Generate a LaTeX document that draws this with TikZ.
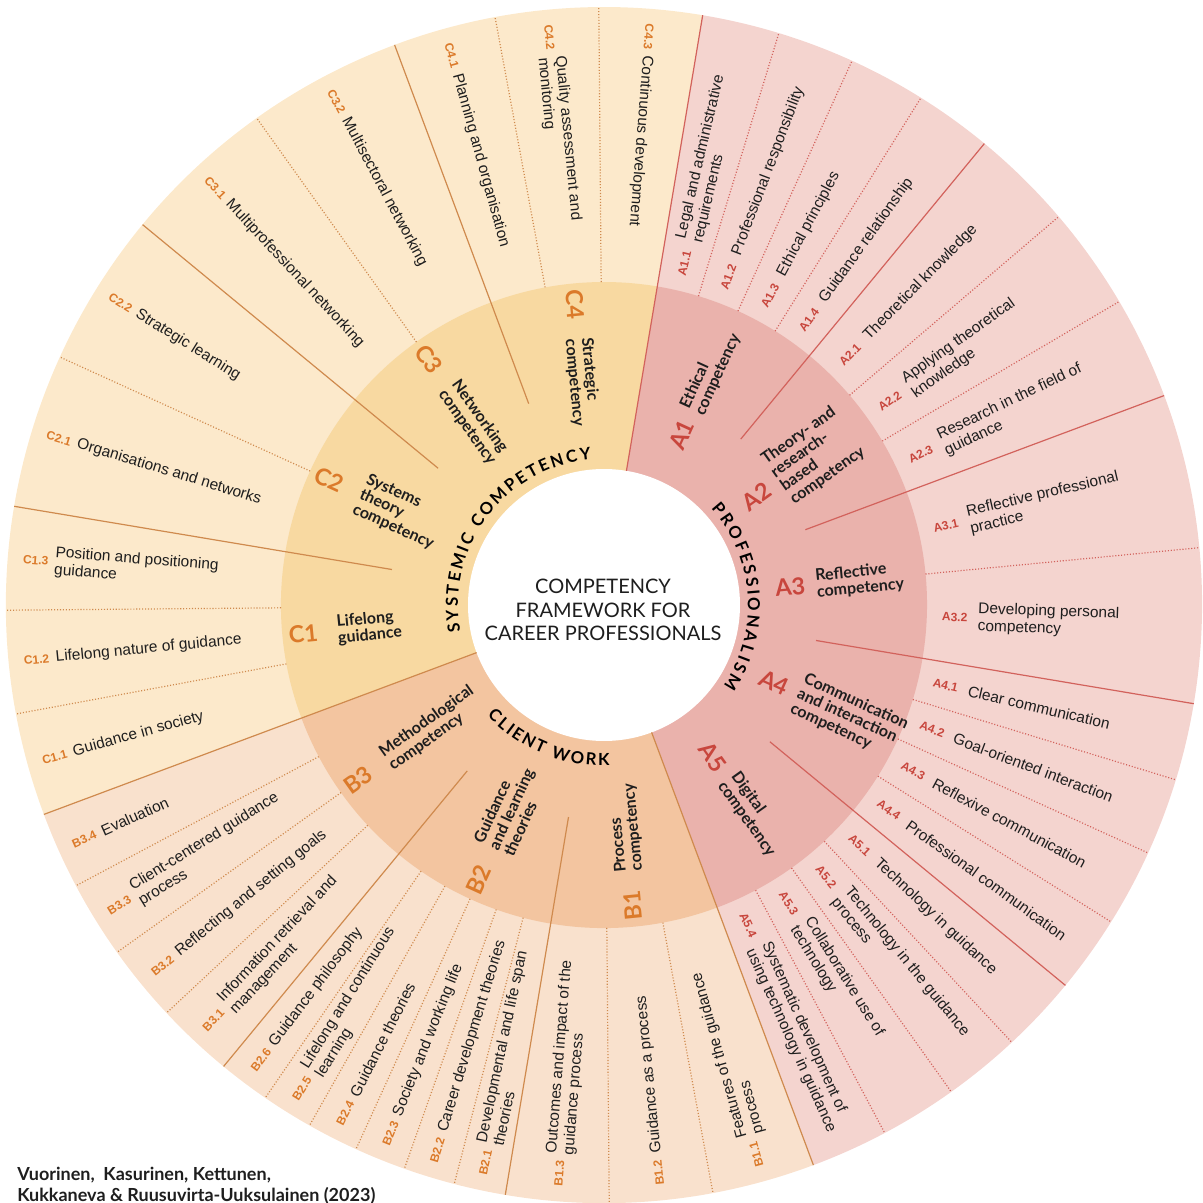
\documentclass[tikz,border=0pt]{standalone}
\usepackage{fontspec}
\setmainfont{Liberation Sans}
\newfontfamily\lato{Lato}
\usetikzlibrary{decorations.text}

\definecolor{cOut}{HTML}{FCE9CB}
\definecolor{cMid}{HTML}{F8D9A1}
\definecolor{aOut}{HTML}{F4D4CF}
\definecolor{aMid}{HTML}{EAB2AC}
\definecolor{bOut}{HTML}{F9E1CD}
\definecolor{bMid}{HTML}{F3C5A0}
\definecolor{orangeCode}{HTML}{DB7A2A}
\definecolor{redCode}{HTML}{C8463D}
\definecolor{orangeLine}{HTML}{CF8A4E}
\definecolor{redLine}{HTML}{D2625C}
\definecolor{ink}{HTML}{1E1E1E}

\begin{document}
\begin{tikzpicture}[x=0.75pt,y=0.75pt,
  subcodeA/.style={anchor=west,inner sep=0pt,text=redCode,font=\bfseries\fontsize{9}{10}\selectfont},
  subcodeBC/.style={subcodeA,text=orangeCode},
  subtext/.style={anchor=west,inner sep=0pt,align=left,text=ink,font=\fontsize{11.6}{13.1}\selectfont},
  compcodeA/.style={inner sep=0pt,text=redCode,font=\lato\bfseries\fontsize{17.6}{20}\selectfont},
  compcodeBC/.style={compcodeA,text=orangeCode},
  compname/.style={anchor=west,inner sep=0pt,align=left,text=ink,font=\lato\bfseries\fontsize{12}{12.3}\selectfont},
  dotsA/.style={redLine,line width=0.9pt,dash pattern=on 0.8pt off 1.4pt},
  dotsBC/.style={dotsA,orangeLine},
  ruleA/.style={redLine,line width=0.9pt},
  ruleBC/.style={ruleA,orangeLine}]
\useasboundingbox (-604,-598) rectangle (599,605);

% outer ring
\fill[aOut] (0,0) -- (80.5:598) arc[start angle=80.5,end angle=-69.5,radius=448.5pt] -- cycle;
\fill[bOut] (0,0) -- (-69.5:598) arc[start angle=-69.5,end angle=-159.5,radius=448.5pt] -- cycle;
\fill[cOut] (0,0) -- (200.5:598) arc[start angle=200.5,end angle=80.5,radius=448.5pt] -- cycle;
% competency ring
\fill[aMid] (0,0) -- (80.5:323) arc[start angle=80.5,end angle=-69.5,radius=242.25pt] -- cycle;
\fill[bMid] (0,0) -- (-69.5:323) arc[start angle=-69.5,end angle=-159.5,radius=242.25pt] -- cycle;
\fill[cMid] (0,0) -- (200.5:323) arc[start angle=200.5,end angle=80.5,radius=242.25pt] -- cycle;
\fill[white] (0,0) circle[radius=102pt];

% main borders
\draw[ruleA] (80.5:136) -- (80.5:598);
\draw[ruleBC] (-69.5:136) -- (-69.5:598);
\draw[ruleBC] (200.5:136) -- (200.5:598);
\draw[ruleA] (50.5:215) -- (50.5:598);
\draw[ruleA] (20.5:215) -- (20.5:598);
\draw[ruleA] (-9.5:215) -- (-9.5:598);
\draw[ruleA] (-39.5:215) -- (-39.5:598);
\draw[ruleBC] (-99.5:215) -- (-99.5:598);
\draw[ruleBC] (-129.5:215) -- (-129.5:598);
\draw[ruleBC] (170.5:215) -- (170.5:598);
\draw[ruleBC] (140.5:215) -- (140.5:598);
\draw[ruleBC] (110.5:215) -- (110.5:598);

% dotted borders
\draw[dotsA] (73:323) -- (73:598);
\draw[dotsA] (65.5:323) -- (65.5:598);
\draw[dotsA] (58:323) -- (58:598);
\draw[dotsA] (40.5:323) -- (40.5:598);
\draw[dotsA] (30.5:323) -- (30.5:598);
\draw[dotsA] (5.5:323) -- (5.5:598);
\draw[dotsA] (-17:323) -- (-17:598);
\draw[dotsA] (-24.5:323) -- (-24.5:598);
\draw[dotsA] (-32:323) -- (-32:598);
\draw[dotsA] (-47:323) -- (-47:598);
\draw[dotsA] (-54.5:323) -- (-54.5:598);
\draw[dotsA] (-62:323) -- (-62:598);
\draw[dotsBC] (-79.5:323) -- (-79.5:598);
\draw[dotsBC] (-89.5:323) -- (-89.5:598);
\draw[dotsBC] (-104.5:323) -- (-104.5:598);
\draw[dotsBC] (-109.5:323) -- (-109.5:598);
\draw[dotsBC] (-114.5:323) -- (-114.5:598);
\draw[dotsBC] (-119.5:323) -- (-119.5:598);
\draw[dotsBC] (-124.5:323) -- (-124.5:598);
\draw[dotsBC] (-137:323) -- (-137:598);
\draw[dotsBC] (-144.5:323) -- (-144.5:598);
\draw[dotsBC] (-152:323) -- (-152:598);
\draw[dotsBC] (190.5:323) -- (190.5:598);
\draw[dotsBC] (180.5:323) -- (180.5:598);
\draw[dotsBC] (155.5:323) -- (155.5:598);
\draw[dotsBC] (125.5:323) -- (125.5:598);
\draw[dotsBC] (100.5:323) -- (100.5:598);
\draw[dotsBC] (90.5:323) -- (90.5:598);

% centre
\node[font=\lato\fontsize{15}{17.5}\selectfont,align=center,text=ink] (title) at (-1,-5) {COMPETENCY\\FRAMEWORK FOR\\CAREER PROFESSIONALS};
\path[decorate,decoration={text along path,text align={fit to path},
  text={|\lato\bfseries\fontsize{12.5}{14}\selectfont|SYSTEMIC COMPETENCY}}]
  (190.5:146) arc[start angle=190.5,end angle=95,radius=109.5pt];
\path[decorate,decoration={text along path,text align={fit to path},
  text={|\lato\bfseries\fontsize{12.5}{14}\selectfont|PROFESSIONALISM}}]
  (42:144) arc[start angle=42,end angle=-34,radius=108pt];
\path[decorate,decoration={text along path,text align={fit to path},
  text={|\lato\bfseries\fontsize{12.5}{14}\selectfont|CLIENT WORK}}]
  (-136.5:161) arc[start angle=-136.5,end angle=-88,radius=120.75pt];

% competencies
\node[compcodeA,rotate=65.5] (A1code) at (65.5:187) {A1};
\node[compname,rotate=65.5] (A1) at (65.5:213) {Ethical\\competency};
\node[compcodeA,rotate=35.5] (A2code) at (35.5:187) {A2};
\node[compname,rotate=35.5] (A2) at (35.5:213) {Theory- and\\research-\\based\\competency};
\node[compcodeA,rotate=5.5] (A3code) at (5.5:187) {A3};
\node[compname,rotate=5.5] (A3) at (5.5:213) {Reflective\\competency};
\node[compcodeA,rotate=-24.5] (A4code) at (-24.5:187) {A4};
\node[compname,rotate=-24.5] (A4) at (-24.5:213) {Communication\\and interaction\\competency};
\node[compcodeA,rotate=-54.5] (A5code) at (-54.5:187) {A5};
\node[compname,rotate=-54.5] (A5) at (-54.5:213) {Digital\\competency};
\node[compcodeBC,rotate=95.5] (B1code) at (-84.5:302) {B1};
\node[compname,rotate=95.5] (B1) at (-84.5:268) {Process\\competency};
\node[compcodeBC,rotate=65.5] (B2code) at (-114.5:302) {B2};
\node[compname,rotate=65.5] (B2) at (-114.5:268) {Guidance\\and learning\\theories};
\node[compcodeBC,rotate=35.5] (B3code) at (-144.5:302) {B3};
\node[compname,rotate=35.5] (B3) at (-144.5:268) {Methodological\\competency};
\node[compcodeBC,rotate=5.5] (C1code) at (185.5:302) {C1};
\node[compname,rotate=5.5] (C1) at (185.5:268) {Lifelong\\guidance};
\node[compcodeBC,rotate=-24.5] (C2code) at (155.5:302) {C2};
\node[compname,rotate=-24.5] (C2) at (155.5:268) {Systems\\theory\\competency};
\node[compcodeBC,rotate=-54.5] (C3code) at (125.5:302) {C3};
\node[compname,rotate=-54.5] (C3) at (125.5:268) {Networking\\competency};
\node[compcodeBC,rotate=-84.5] (C4code) at (95.5:302) {C4};
\node[compname,rotate=-84.5] (C4) at (95.5:268) {Strategic\\competency};

% A sub-competencies
\node[subcodeA,rotate=76.75] (A11code) at (76.75:338) {A1.1};
\node[subtext,rotate=76.75] (A11) at (76.75:374) {Legal and administrative\\requirements};
\node[subcodeA,rotate=69.25] (A12code) at (69.25:338) {A1.2};
\node[subtext,rotate=69.25] (A12) at (69.25:374) {Professional responsibility};
\node[subcodeA,rotate=61.75] (A13code) at (61.75:338) {A1.3};
\node[subtext,rotate=61.75] (A13) at (61.75:374) {Ethical principles};
\node[subcodeA,rotate=54.25] (A14code) at (54.25:338) {A1.4};
\node[subtext,rotate=54.25] (A14) at (54.25:374) {Guidance relationship};
\node[subcodeA,rotate=45.5] (A21code) at (45.5:338) {A2.1};
\node[subtext,rotate=45.5] (A21) at (45.5:374) {Theoretical knowledge};
\node[subcodeA,rotate=35.5] (A22code) at (35.5:338) {A2.2};
\node[subtext,rotate=35.5] (A22) at (35.5:374) {Applying theoretical\\knowledge};
\node[subcodeA,rotate=25.5] (A23code) at (25.5:338) {A2.3};
\node[subtext,rotate=25.5] (A23) at (25.5:374) {Research in the field of\\guidance};
\node[subcodeA,rotate=13] (A31code) at (13:338) {A3.1};
\node[subtext,rotate=13] (A31) at (13:374) {Reflective professional\\practice};
\node[subcodeA,rotate=-2] (A32code) at (-2:338) {A3.2};
\node[subtext,rotate=-2] (A32) at (-2:374) {Developing personal\\competency};
\node[subcodeA,rotate=-13.25] (A41code) at (-13.25:338) {A4.1};
\node[subtext,rotate=-13.25] (A41) at (-13.25:374) {Clear communication};
\node[subcodeA,rotate=-20.75] (A42code) at (-20.75:338) {A4.2};
\node[subtext,rotate=-20.75] (A42) at (-20.75:374) {Goal-oriented interaction};
\node[subcodeA,rotate=-28.25] (A43code) at (-28.25:338) {A4.3};
\node[subtext,rotate=-28.25] (A43) at (-28.25:374) {Reflexive communication};
\node[subcodeA,rotate=-35.75] (A44code) at (-35.75:338) {A4.4};
\node[subtext,rotate=-35.75] (A44) at (-35.75:374) {Professional communication};
\node[subcodeA,rotate=-43.25] (A51code) at (-43.25:338) {A5.1};
\node[subtext,rotate=-43.25] (A51) at (-43.25:374) {Technology in guidance};
\node[subcodeA,rotate=-50.75] (A52code) at (-50.75:338) {A5.2};
\node[subtext,rotate=-50.75] (A52) at (-50.75:374) {Technology in the guidance\\process};
\node[subcodeA,rotate=-58.25] (A53code) at (-58.25:338) {A5.3};
\node[subtext,rotate=-58.25] (A53) at (-58.25:374) {Collaborative use of\\technology};
\node[subcodeA,rotate=-65.75] (A54code) at (-65.75:338) {A5.4};
\node[subtext,rotate=-65.75] (A54) at (-65.75:374) {Systematic development of\\using technology in guidance};

% B sub-competencies
\node[subcodeBC,rotate=105.5] (B11code) at (-74.5:583) {B1.1};
\node[subtext,rotate=105.5] (B11) at (-74.5:551) {Features of the guidance\\process};
\node[subcodeBC,rotate=95.5] (B12code) at (-84.5:583) {B1.2};
\node[subtext,rotate=95.5] (B12) at (-84.5:551) {Guidance as a process};
\node[subcodeBC,rotate=85.5] (B13code) at (-94.5:583) {B1.3};
\node[subtext,rotate=85.5] (B13) at (-94.5:551) {Outcomes and impact of the\\guidance process};
\node[subcodeBC,rotate=78] (B21code) at (-102:583) {B2.1};
\node[subtext,rotate=78] (B21) at (-102:551) {Developmental and life span\\theories};
\node[subcodeBC,rotate=73] (B22code) at (-107:583) {B2.2};
\node[subtext,rotate=73] (B22) at (-107:551) {Career development theories};
\node[subcodeBC,rotate=68] (B23code) at (-112:583) {B2.3};
\node[subtext,rotate=68] (B23) at (-112:551) {Society and working life};
\node[subcodeBC,rotate=63] (B24code) at (-117:583) {B2.4};
\node[subtext,rotate=63] (B24) at (-117:551) {Guidance theories};
\node[subcodeBC,rotate=58] (B25code) at (-122:583) {B2.5};
\node[subtext,rotate=58] (B25) at (-122:551) {Lifelong and continuous\\learning};
\node[subcodeBC,rotate=53] (B26code) at (-127:583) {B2.6};
\node[subtext,rotate=53] (B26) at (-127:551) {Guidance philosophy};
\node[subcodeBC,rotate=46.75] (B31code) at (-133.25:583) {B3.1};
\node[subtext,rotate=46.75] (B31) at (-133.25:551) {Information retrieval and\\management};
\node[subcodeBC,rotate=39.25] (B32code) at (-140.75:583) {B3.2};
\node[subtext,rotate=39.25] (B32) at (-140.75:551) {Reflecting and setting goals};
\node[subcodeBC,rotate=31.75] (B33code) at (-148.25:583) {B3.3};
\node[subtext,rotate=31.75] (B33) at (-148.25:551) {Client-centered guidance\\process};
\node[subcodeBC,rotate=24.25] (B34code) at (-155.75:583) {B3.4};
\node[subtext,rotate=24.25] (B34) at (-155.75:551) {Evaluation};

% C sub-competencies
\node[subcodeBC,rotate=15.5] (C11code) at (195.5:583) {C1.1};
\node[subtext,rotate=15.5] (C11) at (195.5:551) {Guidance in society};
\node[subcodeBC,rotate=5.5] (C12code) at (185.5:583) {C1.2};
\node[subtext,rotate=5.5] (C12) at (185.5:551) {Lifelong nature of guidance};
\node[subcodeBC,rotate=-4.5] (C13code) at (175.5:583) {C1.3};
\node[subtext,rotate=-4.5] (C13) at (175.5:551) {Position and positioning\\guidance};
\node[subcodeBC,rotate=-17] (C21code) at (163:583) {C2.1};
\node[subtext,rotate=-17] (C21) at (163:551) {Organisations and networks};
\node[subcodeBC,rotate=-32] (C22code) at (148:583) {C2.2};
\node[subtext,rotate=-32] (C22) at (148:551) {Strategic learning};
\node[subcodeBC,rotate=-47] (C31code) at (133:583) {C3.1};
\node[subtext,rotate=-47] (C31) at (133:551) {Multiprofessional networking};
\node[subcodeBC,rotate=-62] (C32code) at (118:583) {C3.2};
\node[subtext,rotate=-62] (C32) at (118:551) {Multisectoral networking};
\node[subcodeBC,rotate=-74.5] (C41code) at (105.5:583) {C4.1};
\node[subtext,rotate=-74.5] (C41) at (105.5:551) {Planning and organisation};
\node[subcodeBC,rotate=-84.5] (C42code) at (95.5:583) {C4.2};
\node[subtext,rotate=-84.5] (C42) at (95.5:551) {Quality assessment and\\monitoring};
\node[subcodeBC,rotate=-94.5] (C43code) at (85.5:583) {C4.3};
\node[subtext,rotate=-94.5] (C43) at (85.5:551) {Continuous development};

% source
\node[anchor=base west,inner sep=0pt,text=ink,font=\lato\bfseries\fontsize{13.5}{15}\selectfont] (cite1) at (-587,-575) {Vuorinen,~ Kasurinen, Kettunen,};
\node[anchor=base west,inner sep=0pt,text=ink,font=\lato\bfseries\fontsize{13.5}{15}\selectfont] (cite2) at (-587,-596) {Kukkaneva \& Ruusuvirta-Uuksulainen (2023)};
\end{tikzpicture}
\end{document}
